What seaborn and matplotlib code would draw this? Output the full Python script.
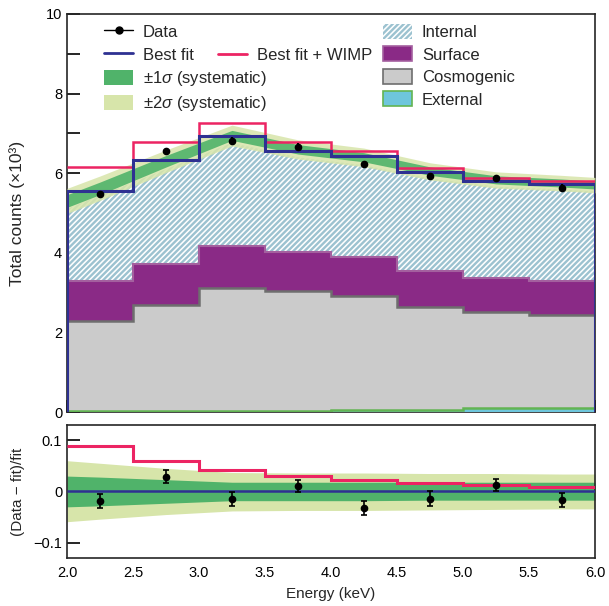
import numpy as np
import matplotlib
matplotlib.use('Agg')
import matplotlib.pyplot as plt
import seaborn as sns
from matplotlib.patches import Patch
from matplotlib.lines import Line2D
from matplotlib.ticker import MultipleLocator

# energy bins (keV)
edges = [2.0, 2.5, 3.0, 3.5, 4.0, 4.5, 5.0, 5.5, 6.0]
centres = [2.25, 2.75, 3.25, 3.75, 4.25, 4.75, 5.25, 5.75]

# top panel, total counts (x10^3)
data_counts = [5.48, 6.56, 6.82, 6.67, 6.23, 5.92, 5.88, 5.64]
data_err = [0.08, 0.08, 0.08, 0.08, 0.08, 0.08, 0.08, 0.08]
best_fit = [5.56, 6.33, 6.94, 6.55, 6.42, 6.02, 5.80, 5.73]
fit_wimp = [6.15, 6.78, 7.25, 6.78, 6.57, 6.12, 5.87, 5.80]
# stacked components (cumulative tops)
external = [0.03, 0.03, 0.03, 0.03, 0.06, 0.06, 0.10, 0.10]
cosmogenic = [2.29, 2.69, 3.11, 3.03, 2.92, 2.63, 2.52, 2.43]
surface = [3.28, 3.72, 4.17, 4.02, 3.89, 3.55, 3.37, 3.29]

# smooth pieces, sampled at band_x
band_x = [2.0, 2.25, 2.75, 3.25, 3.75, 4.25, 4.75, 5.25, 5.75, 6.0]
band_mid = [5.30, 5.62, 6.30, 6.95, 6.60, 6.40, 6.05, 5.83, 5.75, 5.70]
internal = [5.10, 5.44, 6.10, 6.76, 6.40, 6.20, 5.87, 5.66, 5.59, 5.54]
# relative systematic bands
sig1_hi = [0.030, 0.028, 0.023, 0.018, 0.018, 0.018, 0.018, 0.018, 0.018, 0.018]
sig1_lo = [-0.030, -0.028, -0.023, -0.018, -0.018, -0.018, -0.017, -0.017, -0.017, -0.017]
sig2_hi = [0.060, 0.055, 0.045, 0.037, 0.036, 0.036, 0.035, 0.035, 0.034, 0.034]
sig2_lo = [-0.059, -0.054, -0.045, -0.038, -0.037, -0.037, -0.036, -0.035, -0.034, -0.034]

# bottom panel, (data - fit)/fit
resid = [-0.018, 0.029, -0.015, 0.010, -0.032, -0.014, 0.012, -0.017]
resid_err = [0.014, 0.012, 0.013, 0.012, 0.014, 0.014, 0.012, 0.014]
fit_rel = [0.0, 0.0, 0.0, 0.0, 0.0, 0.0, 0.0, 0.0]
wimp_rel = [0.089, 0.060, 0.041, 0.030, 0.022, 0.017, 0.012, 0.008]

c_blue = '#2e3192'
c_red = '#ec2463'
c_sig1 = '#50b36a'
c_sig2 = '#d7e5aa'
c_hatch = '#9cc2d0'
c_surf = '#8a2a86'
c_surf_edge = '#a4609f'
c_cosmo = '#cbcbcb'
c_cosmo_edge = '#6e6e6e'
c_ext = '#6ec6dc'
c_ext_edge = '#62b452'

sns.set_style('ticks')
plt.rcParams['font.family'] = ['Liberation Sans', 'DejaVu Sans']
plt.rcParams['mathtext.fontset'] = 'custom'
plt.rcParams['mathtext.rm'] = 'Liberation Sans'
plt.rcParams['mathtext.it'] = 'Liberation Sans:italic'
plt.rcParams['hatch.linewidth'] = 1.7
plt.rcParams['axes.linewidth'] = 1.2

fig = plt.figure(figsize=(6.09, 6.06), dpi=100)
ax = fig.add_axes([0.110, 0.320, 0.867, 0.657])
ax2 = fig.add_axes([0.110, 0.079, 0.867, 0.220])

bx = np.array(band_x)
mid = np.array(band_mid)

# ---- top panel
ax.fill_between(bx, 0, internal, facecolor='white', edgecolor=c_hatch, hatch='//////', linewidth=0, zorder=1)
ax.stairs(surface, edges, baseline=0, fill=True, color=c_surf, zorder=2)
ax.stairs(surface, edges, baseline=None, color=c_surf_edge, lw=1.5, zorder=2.1)
ax.stairs(cosmogenic, edges, baseline=0, fill=True, color=c_cosmo, zorder=3)
ax.stairs(cosmogenic, edges, baseline=None, color=c_cosmo_edge, lw=1.8, zorder=3.1)
ax.stairs(external, edges, baseline=0, fill=True, color=c_ext, zorder=4)
ax.stairs(external, edges, baseline=None, color=c_ext_edge, lw=1.8, zorder=4.1)

ax.fill_between(bx, mid * (1 + np.array(sig2_lo)), mid * (1 + np.array(sig2_hi)),
                color=c_sig2, alpha=0.85, lw=0, zorder=5)
ax.fill_between(bx, mid * (1 + np.array(sig1_lo)), mid * (1 + np.array(sig1_hi)),
                color=c_sig1, alpha=0.9, lw=0, zorder=5.1)

ax.stairs(fit_wimp, edges, baseline=None, color=c_red, lw=1.8, zorder=6)
ax.stairs(best_fit, edges, baseline=0, color=c_blue, lw=2.2, zorder=6.1)
ax.errorbar(centres, data_counts, yerr=data_err, fmt='o', color='k', ms=4.5, elinewidth=1.5, capsize=0, zorder=7)

ax.set_xlim(2, 6)
ax.set_ylim(0, 10)
ax.yaxis.set_major_locator(MultipleLocator(2))
ax.yaxis.set_minor_locator(MultipleLocator(1))
ax.xaxis.set_major_locator(MultipleLocator(0.5))
ax.tick_params(which='both', direction='in', length=9, width=1.2, labelsize=10.5, colors='k', labelbottom=False)
ax.set_ylabel('Total counts (×10³)', fontsize=12.5)
ax.yaxis.set_label_coords(-0.08, 0.5)

# legends
h_left = [Line2D([], [], color='k', marker='o', ms=5, lw=1),
          Line2D([], [], color=c_blue, lw=2),
          Patch(facecolor=c_sig1, lw=0),
          Patch(facecolor=c_sig2, lw=0)]
l_left = ['Data', 'Best fit', r'±1$\sigma$ (systematic)', r'±2$\sigma$ (systematic)']
leg_kw = dict(frameon=False, fontsize=12, handlelength=1.75, handleheight=1.0,
              handletextpad=0.6, labelspacing=0.38, borderpad=0, borderaxespad=0, loc='upper left')
leg1 = ax.legend(h_left, l_left, bbox_to_anchor=(0.07, 0.975), **leg_kw)
ax.add_artist(leg1)
leg2 = ax.legend([Line2D([], [], color=c_red, lw=2)], ['Best fit + WIMP'],
                 bbox_to_anchor=(0.286, 0.917), **leg_kw)
ax.add_artist(leg2)
h_right = [Patch(facecolor='white', edgecolor=c_hatch, hatch='//////', lw=0),
           Patch(facecolor=c_surf, edgecolor=c_surf_edge, lw=1.2),
           Patch(facecolor=c_cosmo, edgecolor=c_cosmo_edge, lw=1.2),
           Patch(facecolor=c_ext, edgecolor=c_ext_edge, lw=1.2)]
l_right = ['Internal', 'Surface', 'Cosmogenic', 'External']
ax.legend(h_right, l_right, bbox_to_anchor=(0.598, 0.975), **leg_kw)

# ---- bottom panel
ax2.fill_between(bx, sig2_lo, sig2_hi, color=c_sig2, lw=0, zorder=1)
ax2.fill_between(bx, sig1_lo, sig1_hi, color=c_sig1, lw=0, zorder=2)
ax2.stairs(fit_rel, edges, baseline=None, color=c_blue, lw=1.8, zorder=3)
ax2.stairs(wimp_rel, edges, baseline=None, color=c_red, lw=2.2, zorder=4)
ax2.errorbar(centres, resid, yerr=resid_err, fmt='o', color='k', ms=4.5, elinewidth=1.2,
             capsize=2, capthick=1.2, zorder=5)
ax2.set_xlim(2, 6)
ax2.set_ylim(-0.13, 0.13)
ax2.set_yticks([-0.1, 0, 0.1])
ax2.set_yticklabels(['−0.1', '0', '0.1'])
ax2.set_xticks([2.0, 2.5, 3.0, 3.5, 4.0, 4.5, 5.0, 5.5, 6.0])
ax2.set_xticklabels(['2.0', '2.5', '3.0', '3.5', '4.0', '4.5', '5.0', '5.5', '6.0'])
ax2.tick_params(axis='y', direction='in', length=9, width=1.2, labelsize=10.5, colors='k')
ax2.tick_params(axis='x', direction='in', length=0, pad=6, labelsize=10.5, colors='k')
ax2.set_xlabel('Energy (keV)', fontsize=11, labelpad=5)
ax2.set_ylabel('(Data − fit)/fit', fontsize=11)
ax2.yaxis.set_label_coords(-0.08, 0.5)

fig.savefig('out.png', dpi=100)
